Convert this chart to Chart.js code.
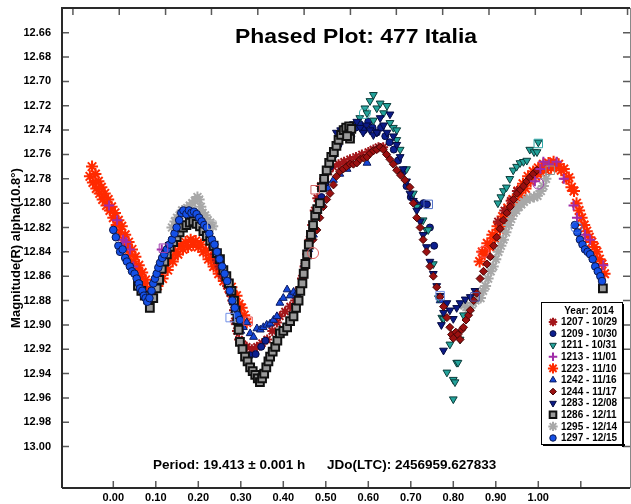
<!DOCTYPE html>
<html lang="en">
<head>
<meta charset="UTF-8" />
<title>Phased Plot: 477 Italia</title>
<script src="https://cdn.jsdelivr.net/npm/chart.js"></script>
<style>
  body { margin: 0; background: #fff; }
  canvas { display: block; }
</style>
</head>
<body>
<canvas id="phaseChart" width="631" height="504"></canvas>
<script>
// sessions (legend order)
const sessions = ["1207 - 10/29", "1209 - 10/30", "1211 - 10/31", "1213 - 11/01", "1223 - 11/10",
  "1242 - 11/16", "1244 - 11/17", "1283 - 12/08", "1286 - 12/11", "1295 - 12/14", "1297 - 12/15"];

// [phase, magnitude]
const s1207 = [[0.215,12.822],[0.222,12.826],[0.228,12.830],[0.235,12.836],[0.240,12.842],[0.244,12.847],[0.250,12.852],
  [0.256,12.858],[0.262,12.862],[0.268,12.868],[0.275,12.874],[0.280,12.880],[0.284,12.888],[0.286,12.897],[0.291,12.905],
  [0.296,12.912],[0.304,12.916],[0.314,12.918],[0.326,12.920],[0.338,12.918],[0.350,12.915],[0.362,12.912],[0.374,12.905],
  [0.385,12.898],[0.392,12.893],[0.404,12.889],[0.416,12.885],[0.428,12.880],[0.436,12.872],[0.444,12.862],[0.450,12.852],
  [0.456,12.842],[0.462,12.830],[0.468,12.818],[0.474,12.806],[0.480,12.796],[0.488,12.786],[0.496,12.780],[0.506,12.774],
  [0.517,12.770],[0.530,12.768],[0.543,12.766],[0.557,12.764],[0.571,12.762],[0.585,12.760],[0.600,12.758],[0.612,12.756],
  [0.624,12.754],[0.635,12.754],[0.905,12.815],[0.920,12.806],[0.935,12.798],[0.950,12.790]];
const s1209 = [[0.470,12.822],[0.480,12.810],[0.490,12.795],[0.500,12.783],[0.510,12.770],[0.520,12.760],[0.530,12.752],
  [0.540,12.745],[0.550,12.740],[0.560,12.745],[0.570,12.738],[0.580,12.735],[0.590,12.740],[0.600,12.733],[0.610,12.738],
  [0.620,12.742],[0.630,12.738],[0.640,12.745],[0.650,12.750],[0.660,12.756],[0.670,12.765],[0.680,12.775],[0.690,12.786],
  [0.700,12.795],[0.710,12.800],[0.720,12.802],[0.730,12.800],[0.738,12.801],[0.745,12.820],[0.755,12.835],
  [0.322,12.925],[0.335,12.924],[0.348,12.918],[0.358,12.913]];
const s1211 = [[0.580,12.730],[0.592,12.722],[0.597,12.726],[0.604,12.716],[0.612,12.711],[0.612,12.732],[0.620,12.722],
  [0.628,12.718],[0.636,12.726],[0.644,12.720],[0.651,12.734],[0.659,12.738],[0.667,12.740],[0.667,12.748],[0.675,12.756],
  [0.690,12.772],[0.706,12.792],[0.714,12.803],[0.729,12.814],[0.737,12.822],[0.741,12.822],[0.753,12.850],[0.765,12.878],
  [0.773,12.894],[0.777,12.895],[0.785,12.939],[0.792,12.916],[0.800,12.945],[0.800,12.961],[0.804,12.947],[0.808,12.931],
  [0.811,12.931],[0.816,12.912],[0.824,12.892],
  [0.905,12.800],[0.912,12.795],[0.918,12.790],[0.925,12.787],[0.933,12.780],[0.941,12.773],[0.949,12.770],[0.957,12.767],
  [0.965,12.766],[0.973,12.765],[0.980,12.756],[0.990,12.758],[0.997,12.758],[1.000,12.750]];
const s1213 = [[-0.010,12.802],[0.009,12.814],[0.023,12.830],[0.030,12.832],[0.039,12.838],[0.047,12.852],[0.114,12.838],
  [0.992,12.782],[1.005,12.772],[1.012,12.766],[1.025,12.768],[1.043,12.766],[1.060,12.780],[1.083,12.802],[1.091,12.812],
  [1.110,12.826],[1.122,12.830],[1.153,12.851]];
const s1223 = [[-0.055,12.778],[-0.050,12.770],[-0.048,12.783],[-0.042,12.776],[-0.040,12.788],[-0.035,12.782],[-0.032,12.792],
  [-0.028,12.787],[-0.025,12.797],[-0.020,12.792],[-0.016,12.802],[-0.012,12.797],[-0.008,12.806],[-0.004,12.803],[0.000,12.812],
  [0.004,12.808],[0.008,12.818],[0.012,12.814],[0.016,12.824],[0.020,12.819],[0.024,12.830],[0.028,12.826],[0.032,12.836],
  [0.036,12.832],[0.040,12.842],[0.044,12.838],[0.048,12.848],[0.052,12.844],[0.056,12.854],[0.060,12.851],[0.064,12.860],
  [0.068,12.857],[0.072,12.866],[0.076,12.863],[0.080,12.870],[0.085,12.874],
  [0.092,12.872],[0.098,12.866],[0.104,12.868],[0.110,12.860],[0.116,12.862],[0.122,12.853],[0.128,12.855],[0.134,12.846],
  [0.140,12.848],[0.146,12.840],[0.152,12.842],[0.158,12.835],[0.164,12.838],[0.170,12.832],[0.176,12.836],[0.182,12.830],
  [0.188,12.834],[0.194,12.831],[0.200,12.836],[0.206,12.834],[0.212,12.840],[0.218,12.839],[0.224,12.846],[0.230,12.845],
  [0.236,12.852],[0.242,12.851],[0.248,12.858],[0.254,12.857],[0.260,12.864],[0.266,12.863],[0.272,12.870],[0.278,12.869],
  [0.284,12.876],[0.290,12.876],[0.296,12.883],[0.302,12.886],[0.308,12.892],[0.314,12.898],
  [0.862,12.848],[0.868,12.840],[0.874,12.842],[0.880,12.833],[0.886,12.836],[0.892,12.826],[0.898,12.829],[0.904,12.819],
  [0.910,12.822],[0.916,12.811],[0.922,12.815],[0.928,12.804],[0.934,12.808],[0.940,12.797],[0.946,12.801],[0.952,12.790],
  [0.958,12.794],[0.964,12.784],[0.970,12.788],[0.976,12.778],[0.982,12.782],[0.988,12.774],[0.994,12.778],[1.000,12.771],
  [1.006,12.775],[1.012,12.768],[1.018,12.773],[1.024,12.767],[1.030,12.771],[1.036,12.766],[1.042,12.770],[1.048,12.768],
  [1.054,12.773],[1.060,12.772],[1.066,12.780],[1.072,12.779],[1.078,12.787],[1.084,12.790],[1.090,12.800],[1.096,12.806],
  [1.102,12.812],[1.108,12.818],[1.114,12.823],[1.120,12.828],[1.126,12.832],[1.132,12.836],[1.138,12.840],[1.144,12.846],
  [1.150,12.850],[1.156,12.858]];
const s1242 = [[0.300,12.905],[0.306,12.902],[0.314,12.898],[0.322,12.907],[0.330,12.910],[0.338,12.903],[0.346,12.904],
  [0.353,12.902],[0.361,12.900],[0.369,12.899],[0.377,12.896],[0.385,12.893],[0.392,12.882],[0.400,12.878],[0.409,12.871],
  [0.416,12.876],[0.424,12.873],[0.432,12.874],[0.440,12.869],[0.450,12.850],[0.460,12.838],[0.471,12.826],[0.480,12.812],
  [0.491,12.800],[0.505,12.788],[0.518,12.781],[0.533,12.776],[0.550,12.772],[0.597,12.767],[0.769,12.880]];
const s1244 = [[0.470,12.830],[0.479,12.822],[0.486,12.812],[0.494,12.803],[0.502,12.797],[0.510,12.792],[0.518,12.785],
  [0.525,12.778],[0.533,12.774],[0.541,12.772],[0.549,12.770],[0.557,12.768],[0.565,12.768],[0.573,12.767],[0.581,12.764],
  [0.589,12.763],[0.597,12.762],[0.605,12.759],[0.612,12.757],[0.620,12.756],[0.628,12.754],[0.635,12.756],[0.643,12.760],
  [0.651,12.764],[0.659,12.768],[0.667,12.773],[0.676,12.777],[0.686,12.781],[0.698,12.787],[0.706,12.800],[0.714,12.812],
  [0.722,12.820],[0.729,12.830],[0.737,12.840],[0.745,12.852],[0.753,12.860],[0.761,12.869],[0.769,12.877],[0.777,12.885],
  [0.785,12.894],[0.792,12.902],[0.796,12.908],[0.800,12.911],[0.806,12.906],[0.811,12.908],[0.816,12.912],[0.820,12.904],
  [0.824,12.902],[0.830,12.896],[0.836,12.892],[0.840,12.888],[0.848,12.880],[0.855,12.874],[0.863,12.862],[0.871,12.856],
  [0.879,12.850],[0.887,12.844],[0.895,12.835],[0.902,12.828],[0.910,12.821],[0.918,12.814],[0.926,12.808],[0.934,12.803],
  [0.942,12.797],[0.950,12.792],[0.958,12.789],[0.965,12.786],[0.973,12.782],[0.980,12.779],[0.988,12.776],[0.997,12.773]];
const s1283 = [[0.525,12.742],[0.535,12.740],[0.545,12.738],[0.557,12.742],[0.565,12.735],[0.573,12.733],[0.581,12.738],
  [0.588,12.742],[0.596,12.736],[0.604,12.740],[0.612,12.744],[0.620,12.742],[0.628,12.730],[0.636,12.736],[0.644,12.742],
  [0.651,12.727],[0.659,12.745],[0.667,12.752],[0.675,12.762],[0.682,12.772],[0.690,12.782],[0.698,12.792],[0.706,12.798],
  [0.714,12.806],[0.722,12.815],[0.729,12.826],[0.737,12.836],[0.745,12.848],[0.753,12.858],[0.761,12.868],[0.769,12.876],
  [0.772,12.900],[0.777,12.890],[0.777,12.921],[0.785,12.882],[0.792,12.888],[0.800,12.895],[0.808,12.886],[0.816,12.882],
  [0.828,12.879],[0.840,12.877],[0.851,12.872]];
const s1286 = [[0.058,12.868],[0.066,12.872],[0.074,12.876],[0.082,12.879],[0.086,12.886],[0.094,12.878],[0.102,12.870],
  [0.108,12.863],[0.114,12.854],[0.120,12.848],[0.126,12.842],[0.133,12.836],[0.141,12.832],[0.149,12.828],[0.156,12.824],
  [0.164,12.820],[0.172,12.818],[0.180,12.816],[0.188,12.815],[0.196,12.817],[0.204,12.819],[0.212,12.823],[0.220,12.827],
  [0.228,12.831],[0.236,12.835],[0.244,12.841],[0.251,12.846],[0.259,12.855],[0.266,12.860],[0.272,12.866],[0.278,12.872],
  [0.284,12.880],[0.288,12.888],[0.292,12.896],[0.295,12.904],[0.298,12.914],[0.304,12.920],[0.310,12.926],[0.316,12.930],
  [0.322,12.935],[0.328,12.938],[0.334,12.941],[0.340,12.944],[0.345,12.947],[0.350,12.944],[0.355,12.940],[0.360,12.935],
  [0.365,12.930],[0.369,12.926],[0.375,12.922],[0.381,12.918],[0.386,12.913],[0.392,12.907],[0.400,12.905],[0.409,12.902],
  [0.416,12.897],[0.424,12.893],[0.430,12.886],[0.436,12.880],[0.440,12.872],[0.445,12.866],[0.448,12.858],[0.452,12.850],
  [0.456,12.842],[0.460,12.834],[0.465,12.826],[0.470,12.818],[0.475,12.810],[0.480,12.805],[0.486,12.800],[0.491,12.787],
  [0.496,12.780],[0.502,12.773],[0.508,12.767],[0.513,12.762],[0.519,12.758],[0.525,12.753],[0.530,12.748],[0.536,12.744],
  [0.542,12.740],[0.548,12.738],[0.555,12.737],[0.560,12.739],[0.557,12.747],[0.550,12.745],[1.152,12.870]];
const s1295 = [[0.138,12.820],[0.145,12.815],[0.150,12.812],[0.156,12.810],[0.162,12.806],[0.168,12.808],[0.174,12.804],
  [0.180,12.802],[0.186,12.800],[0.192,12.798],[0.198,12.795],[0.202,12.797],[0.206,12.803],[0.210,12.808],[0.216,12.810],
  [0.222,12.814],[0.228,12.816],[0.234,12.819],
  [0.826,12.884],[0.834,12.888],[0.840,12.886],[0.846,12.882],[0.852,12.880],[0.858,12.878],[0.864,12.878],[0.870,12.872],
  [0.876,12.868],[0.882,12.862],[0.888,12.856],[0.894,12.852],[0.900,12.846],[0.906,12.840],[0.912,12.835],[0.918,12.830],
  [0.924,12.824],[0.930,12.818],[0.936,12.813],[0.942,12.808],[0.948,12.806],[0.954,12.803],[0.960,12.801],[0.966,12.799],
  [0.972,12.797],[0.980,12.796],[0.990,12.795],[0.998,12.794],[1.006,12.790],[1.012,12.786],[1.018,12.780]];
const s1297 = [[0.000,12.822],[0.006,12.828],[0.012,12.835],[0.016,12.840],[0.022,12.838],[0.028,12.845],[0.032,12.848],
  [0.039,12.852],[0.044,12.856],[0.050,12.858],[0.055,12.862],[0.060,12.866],[0.063,12.870],[0.068,12.872],[0.072,12.876],
  [0.076,12.878],[0.080,12.881],[0.085,12.878],[0.090,12.872],[0.094,12.866],[0.098,12.862],[0.102,12.858],[0.106,12.853],
  [0.110,12.849],[0.115,12.845],[0.120,12.842],[0.126,12.838],[0.132,12.834],[0.138,12.830],[0.144,12.825],[0.149,12.820],
  [0.155,12.814],[0.160,12.808],[0.165,12.806],[0.172,12.809],[0.178,12.806],[0.184,12.808],[0.190,12.807],[0.196,12.809],
  [0.202,12.812],[0.208,12.815],[0.214,12.818],[0.220,12.820],[0.226,12.825],[0.232,12.830],[0.238,12.834],[0.244,12.840],
  [0.250,12.846],[0.256,12.852],[0.262,12.858],[0.268,12.864],[0.274,12.872],[0.280,12.880],[0.286,12.886],[0.292,12.892],
  [0.298,12.896],
  [1.086,12.818],[1.092,12.824],[1.098,12.830],[1.104,12.834],[1.110,12.838],[1.116,12.840],[1.122,12.842],[1.128,12.846],
  [1.134,12.852],[1.140,12.856],[1.146,12.860],[1.150,12.864]];
const seriesData = [s1207, s1209, s1211, s1213, s1223, s1242, s1244, s1283, s1286, s1295, s1297];

// hollow first-point marks
const openSquares = [[0.118,12.837],[0.232,12.818],[0.275,12.894],[0.317,12.897],[0.475,12.789],[0.741,12.801],
  [0.769,12.876],[0.851,12.877],[1.000,12.751],[1.028,12.773]];
const openCircles = [[0.470,12.841],[0.592,12.726],[1.000,12.784],[1.090,12.820],[0.871,12.840]];

const xTicks = [0, 0.1, 0.2, 0.3, 0.4, 0.5, 0.6, 0.7, 0.8, 0.9, 1.0];
const xTickMarks = [0, 0.1, 0.2, 0.3, 0.4, 0.5, 0.6, 0.7, 0.8, 0.9, 1.0, 1.1];
const topTickMarks = [-0.095, 0.014, 0.123, 0.231, 0.340, 0.449, 0.558, 0.666, 0.775, 0.884, 0.993, 1.101, 1.210];
const yTicks = [12.66, 12.68, 12.70, 12.72, 12.74, 12.76, 12.78, 12.80, 12.82, 12.84, 12.86, 12.88, 12.90,
  12.92, 12.94, 12.96, 12.98, 13.00];

// styles per session
const styles = [
  { pointStyle: "star", radius: 5, bg: "#a3161a", border: "#a3161a", bw: 2 },
  { pointStyle: "circle", radius: 3.5, bg: "#0c1f8f", border: "#050a40", bw: 1 },
  { pointStyle: "triangle", radius: 4.5, rot: 180, bg: "#23a39b", border: "#0b3c3a", bw: 1 },
  { pointStyle: "cross", radius: 5, bg: "#a02ca8", border: "#a02ca8", bw: 2 },
  { pointStyle: "star", radius: 6, bg: "#ff2a00", border: "#ff2a00", bw: 2 },
  { pointStyle: "triangle", radius: 4.5, bg: "#1547d8", border: "#0a1a60", bw: 1 },
  { pointStyle: "rectRot", radius: 4, bg: "#9a1010", border: "#4a0505", bw: 1 },
  { pointStyle: "triangle", radius: 4.5, rot: 180, bg: "#0b1a86", border: "#040a40", bw: 1 },
  { pointStyle: "rect", radius: 5.5, bg: "#9a9a9a", border: "#111111", bw: 2 },
  { pointStyle: "star", radius: 5.5, bg: "#a8a8a8", border: "#a8a8a8", bw: 2 },
  { pointStyle: "circle", radius: 3.8, bg: "#1450e6", border: "#0a1850", bw: 1 }
];
// lower number = drawn on top
const drawOrder = [9, 6, 5, 2, 10, 7, 3, 4, 1, 8, 0];

function hasFont(name) {
  const c = document.createElement("canvas").getContext("2d");
  c.font = "bold 40px monospace";
  const a = c.measureText("0.00 12.66").width;
  c.font = 'bold 40px "' + name + '", monospace';
  return c.measureText("0.00 12.66").width !== a;
}
const narrow = hasFont("Liberation Sans Narrow");
const tickFont = narrow
  ? { family: '"Liberation Sans Narrow"', size: 12.5, weight: "bold" }
  : { family: '"Liberation Sans", Arial', size: 11, weight: "bold" };

const datasets = sessions.map((name, i) => ({
  label: name,
  data: seriesData[i].map((p) => ({ x: p[0], y: p[1] })),
  pointStyle: styles[i].pointStyle,
  pointRadius: styles[i].radius,
  pointRotation: styles[i].rot || 0,
  pointBackgroundColor: styles[i].bg,
  pointBorderColor: styles[i].border,
  pointBorderWidth: styles[i].bw,
  showLine: false,
  order: drawOrder[i]
}));
datasets.push({
  label: "open squares",
  data: openSquares.map((p) => ({ x: p[0], y: p[1] })),
  pointStyle: "rect",
  pointRadius: 6,
  pointBackgroundColor: "rgba(0,0,0,0)",
  pointBorderColor: ["#a040b0", "#b8b8b8", "#7090e8", "#e85050", "#d06060", "#5070c8", "#7090e8", "#4050a8", "#30a8a8", "#909090"],
  pointBorderWidth: 1,
  order: -1
});
datasets.push({
  label: "open circles",
  data: openCircles.map((p) => ({ x: p[0], y: p[1] })),
  pointStyle: "circle",
  pointRadius: 5.5,
  pointBackgroundColor: "rgba(0,0,0,0)",
  pointBorderColor: ["#e06060", "#40b0b0", "#a040b0", "#4070e0", "#ff5050"],
  pointBorderWidth: 1,
  order: -1
});

const framePlugin = {
  id: "frame",
  afterDraw(chart) {
    const ctx = chart.ctx;
    const a = chart.chartArea;
    const xs = chart.scales.x, ys = chart.scales.y;
    ctx.save();
    // ticks
    ctx.strokeStyle = "#5a5a5a";
    ctx.lineWidth = 1.5;
    ctx.beginPath();
    yTicks.forEach((v) => {
      const py = ys.getPixelForValue(v);
      ctx.moveTo(a.left, py); ctx.lineTo(a.left + 7, py);
      ctx.moveTo(a.right, py); ctx.lineTo(a.right - 7, py);
    });
    xTickMarks.forEach((v) => {
      const px = xs.getPixelForValue(v);
      ctx.moveTo(px, a.bottom); ctx.lineTo(px, a.bottom - 7);
    });
    topTickMarks.forEach((v) => {
      const px = xs.getPixelForValue(v);
      ctx.moveTo(px, a.top); ctx.lineTo(px, a.top + 7);
    });
    ctx.stroke();
    // frame
    ctx.strokeStyle = "#2a2a2a";
    ctx.lineWidth = 2;
    ctx.beginPath();
    ctx.moveTo(a.left, a.bottom); ctx.lineTo(a.left, a.top); ctx.lineTo(a.right, a.top);
    ctx.moveTo(a.left, a.bottom); ctx.lineTo(a.right, a.bottom);
    ctx.stroke();
    ctx.strokeStyle = "#888";
    ctx.lineWidth = 1;
    ctx.beginPath();
    ctx.moveTo(a.right + 0.5, a.top); ctx.lineTo(a.right + 0.5, a.bottom);
    ctx.stroke();

    // title (stretched a little to the original's width) and footer
    ctx.fillStyle = "#000";
    ctx.textBaseline = "middle";
    ctx.textAlign = "center";
    ctx.font = 'bold 20px "Liberation Sans", Arial, sans-serif';
    const title = "Phased Plot: 477 Italia";
    const sx = Math.min(1.25, 242 / ctx.measureText(title).width);
    ctx.save();
    ctx.translate(356, 37);
    ctx.scale(sx, 1);
    ctx.fillText(title, 0, 0);
    ctx.restore();
    ctx.font = 'bold 13.5px "Liberation Sans", Arial, sans-serif';
    ctx.textAlign = "left";
    ctx.fillText("Period: 19.413 \u00b1 0.001 h", 153, 465);
    ctx.fillText("JDo(LTC): 2456959.627833", 327, 465);

    // y axis title
    ctx.save();
    ctx.translate(16, 248);
    ctx.rotate(-Math.PI / 2);
    ctx.textAlign = "center";
    ctx.font = 'bold 13px "Liberation Sans", Arial, sans-serif';
    ctx.fillText("Magnitude(R) alpha(10.8\u00b0)", 0, 0);
    ctx.restore();

    // legend
    const lx = 541, ly = 302, lw = 81, lh = 142;
    ctx.fillStyle = "#fff";
    ctx.fillRect(lx, ly, lw, lh);
    ctx.strokeStyle = "#000";
    ctx.lineWidth = 1;
    ctx.strokeRect(lx + 0.5, ly + 0.5, lw, lh);
    ctx.fillStyle = "#000";
    ctx.fillRect(lx + lw, ly + 2, 2, lh + 1);
    ctx.fillRect(lx + 2, ly + lh, lw + 1, 2);
    ctx.font = 'bold 10px "Liberation Sans", Arial, sans-serif';
    ctx.textAlign = "center";
    ctx.fillText("Year: 2014", lx + 48, ly + 9);
    ctx.textAlign = "left";
    sessions.forEach((name, i) => {
      const cy = ly + 20 + i * 11.6;
      const st = styles[i];
      ctx.fillStyle = st.bg;
      ctx.strokeStyle = st.border;
      ctx.lineWidth = st.bw;
      Chart.helpers.drawPoint(ctx, {
        pointStyle: st.pointStyle,
        radius: st.radius * 0.85,
        rotation: st.rot || 0,
        borderWidth: st.bw
      }, lx + 12, cy);
      ctx.fillStyle = "#000";
      ctx.fillText(name, lx + 20, cy + 0.5);
    });
    ctx.restore();
  }
};

new Chart(document.getElementById("phaseChart"), {
  type: "scatter",
  data: { datasets: datasets },
  options: {
    responsive: false,
    animation: false,
    layout: { autoPadding: false, padding: { top: 8, right: 1, left: 0, bottom: 0 } },
    plugins: { legend: { display: false }, tooltip: { enabled: false } },
    scales: {
      x: {
        type: "linear",
        min: -0.1207,
        max: 1.2158,
        grid: { display: false, drawTicks: false },
        border: { display: false },
        afterBuildTicks: (s) => { s.ticks = xTicks.map((v) => ({ value: v })); },
        afterFit: (s) => { s.height = 16; s.paddingLeft = 0; s.paddingRight = 0; },
        ticks: {
          autoSkip: false,
          maxRotation: 0,
          padding: 3,
          color: "#000",
          font: tickFont,
          callback: (v) => Number(v).toFixed(2)
        }
      },
      y: {
        type: "linear",
        reverse: true,
        min: 12.6397,
        max: 13.034,
        grid: { display: false, drawTicks: false },
        border: { display: false },
        afterBuildTicks: (s) => { s.ticks = yTicks.map((v) => ({ value: v })); },
        afterFit: (s) => { s.width = 62; s.paddingTop = 0; s.paddingBottom = 0; },
        ticks: {
          autoSkip: false,
          padding: 11,
          color: "#000",
          font: tickFont,
          callback: (v) => Number(v).toFixed(2)
        }
      }
    }
  },
  plugins: [framePlugin]
});
</script>
</body>
</html>
